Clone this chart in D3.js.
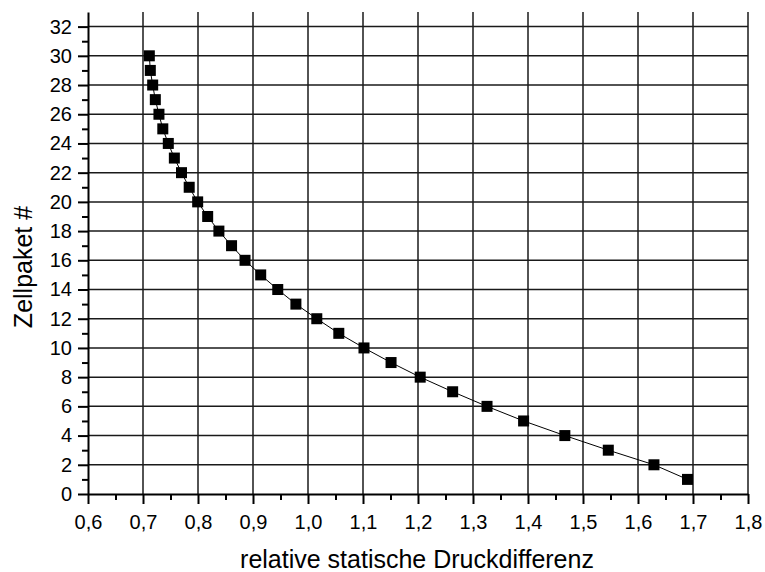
<!DOCTYPE html>
<html>
<head>
<meta charset="utf-8">
<script src="https://cdn.jsdelivr.net/npm/d3@7"></script>
<style>
  html, body { margin: 0; padding: 0; background: #fff; }
  svg { display: block; font-family: "Liberation Sans", Arial, sans-serif; }
</style>
</head>
<body>
<svg id="chart" width="765" height="572"></svg>
<script>
// Cell package number vs. relative static pressure difference
const zellpaket = [30, 29, 28, 27, 26, 25, 24, 23, 22, 21, 20, 19, 18, 17, 16,
                   15, 14, 13, 12, 11, 10, 9, 8, 7, 6, 5, 4, 3, 2, 1];
const druckdifferenz = [0.7115, 0.7133, 0.7176, 0.7224, 0.729, 0.736, 0.746, 0.757,
                        0.770, 0.784, 0.7994, 0.8176, 0.838, 0.861, 0.8855, 0.914,
                        0.945, 0.978, 1.016, 1.056, 1.1018, 1.151, 1.204, 1.263,
                        1.3255, 1.392, 1.467, 1.546, 1.629, 1.690];
const xTicks = [0.6, 0.7, 0.8, 0.9, 1.0, 1.1, 1.2, 1.3, 1.4, 1.5, 1.6, 1.7, 1.8];
const yTicks = [0, 2, 4, 6, 8, 10, 12, 14, 16, 18, 20, 22, 24, 26, 28, 30, 32];
const xTitle = "relative statische Druckdifferenz";
const yTitle = "Zellpaket #";

const points = zellpaket.map((z, i) => ({ x: druckdifferenz[i], y: z }));

const svg = d3.select("#chart");
const plotLeft = 88, plotRight = 748, plotTop = 12, plotBottom = 494;
const fontFamily = "Liberation Sans, Arial, sans-serif";

const x = d3.scaleLinear().domain([0.6, 1.8]).range([plotLeft, plotRight]);
const y = d3.scaleLinear().domain([0, 33]).range([plotBottom, plotTop]);

const fmt = d => d3.format(".1f")(d).replace(".", ",");

// grid
const grid = svg.append("g").attr("stroke", "#1a1a1a").attr("stroke-width", 1.5);
grid.selectAll("line.v").data(xTicks.slice(1)).join("line")
  .attr("x1", d => x(d)).attr("x2", d => x(d))
  .attr("y1", y(33)).attr("y2", plotBottom);
grid.selectAll("line.h").data(yTicks.slice(1)).join("line")
  .attr("x1", plotLeft).attr("x2", plotRight)
  .attr("y1", d => y(d)).attr("y2", d => y(d));

// minor ticks
const xMinor = d3.range(0.65, 1.8, 0.1);
const yMinor = d3.range(1, 33, 2);

// x axis
const xAxis = svg.append("g").attr("transform", `translate(0,${plotBottom})`)
  .call(d3.axisBottom(x).tickValues(xTicks).tickFormat(fmt).tickSize(10).tickSizeOuter(0));
svg.append("g").attr("transform", `translate(0,${plotBottom})`)
  .call(d3.axisBottom(x).tickValues(xMinor).tickFormat("").tickSize(6).tickSizeOuter(0))
  .select(".domain").remove();

// y axis
const yAxis = svg.append("g").attr("transform", `translate(${plotLeft},0)`)
  .call(d3.axisLeft(y).tickValues(yTicks).tickFormat(d3.format("d")).tickSize(10).tickSizeOuter(0));
svg.append("g").attr("transform", `translate(${plotLeft},0)`)
  .call(d3.axisLeft(y).tickValues(yMinor).tickFormat("").tickSize(6).tickSizeOuter(0))
  .select(".domain").remove();

svg.selectAll(".domain").attr("stroke", "#000").attr("stroke-width", 2);
svg.selectAll(".tick line").attr("stroke", "#000").attr("stroke-width", 2);
xAxis.selectAll(".tick text").attr("font-size", 20).attr("fill", "#000")
  .attr("font-family", fontFamily).attr("y", 21).attr("dy", "0.71em");
yAxis.selectAll(".tick text").attr("font-size", 20).attr("fill", "#000")
  .attr("font-family", fontFamily).attr("x", -16);

// connecting line
svg.append("path").datum(points)
  .attr("fill", "none").attr("stroke", "#000").attr("stroke-width", 1)
  .attr("d", d3.line().x(d => x(d.x)).y(d => y(d.y)));

// square markers
const s = 11;
svg.append("g").selectAll("rect").data(points).join("rect")
  .attr("x", d => x(d.x) - s / 2).attr("y", d => y(d.y) - s / 2)
  .attr("width", s).attr("height", s).attr("fill", "#000");

// titles
svg.append("text").attr("x", 417).attr("y", 568)
  .attr("text-anchor", "middle").attr("font-size", 25).attr("fill", "#000")
  .attr("font-family", fontFamily)
  .text(xTitle);
svg.append("text").attr("transform", `translate(32,${267}) rotate(-90)`)
  .attr("text-anchor", "middle").attr("font-size", 25).attr("fill", "#000")
  .attr("font-family", fontFamily)
  .text(yTitle);
</script>
</body>
</html>
